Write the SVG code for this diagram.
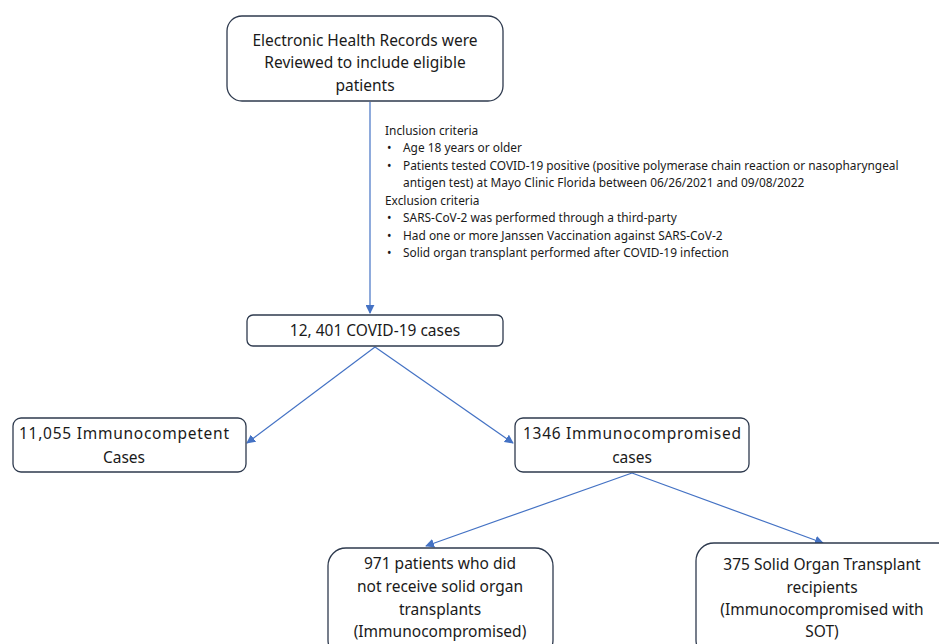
<svg xmlns="http://www.w3.org/2000/svg" width="939" height="644" viewBox="0 0 939 644">
<defs>
<marker id="ah" viewBox="0 0 10 10" refX="9" refY="5" markerWidth="9" markerHeight="9" markerUnits="userSpaceOnUse" orient="auto">
<path d="M0,0 L10,5 L0,10 z" fill="#4472C4"/>
</marker>
<style>
.box{fill:#fff;stroke:#2E3A4E;stroke-width:1.3}
.t{font-family:"Noto Sans","Open Sans",sans-serif;font-size:15.5px;fill:#1a1a1a;text-anchor:middle}
.c{font-family:"Noto Sans","Open Sans",sans-serif;font-size:11.9px;fill:#1a1a1a}
.ln{stroke:#4472C4;stroke-width:1.2;fill:none;marker-end:url(#ah)}
</style>
</defs>
<rect width="939" height="644" fill="#fff"/>
<g id="connectors">
<line class="ln" x1="370" y1="102" x2="370" y2="313"/>
<line class="ln" x1="375" y1="347" x2="247" y2="443"/>
<line class="ln" x1="375" y1="347" x2="513" y2="443"/>
<line class="ln" x1="632" y1="473" x2="426" y2="546"/>
<line class="ln" x1="632" y1="473" x2="823" y2="543"/>
</g>
<g id="ehr">
<rect class="box" x="227" y="16" width="276" height="85" rx="15"/>
<text class="t" x="365" y="46">Electronic Health Records were</text>
<text class="t" x="365" y="68">Reviewed to include eligible</text>
<text class="t" x="365" y="91">patients</text>
</g>
<g id="criteria">
<text class="c" x="385" y="135">Inclusion criteria</text>
<text class="c" x="387" y="152">•</text><text class="c" x="403" y="152">Age 18 years or older</text>
<text class="c" x="387" y="170">•</text><text class="c" x="403" y="170">Patients tested COVID-19 positive (positive polymerase chain reaction or nasopharyngeal</text>
<text class="c" x="403" y="187">antigen test) at Mayo Clinic Florida between 06/26/2021 and 09/08/2022</text>
<text class="c" x="385" y="205">Exclusion criteria</text>
<text class="c" x="387" y="222">•</text><text class="c" x="403" y="222">SARS-CoV-2 was performed through a third-party</text>
<text class="c" x="387" y="240">•</text><text class="c" x="403" y="240">Had one or more Janssen Vaccination against SARS-CoV-2</text>
<text class="c" x="387" y="257">•</text><text class="c" x="403" y="257">Solid organ transplant performed after COVID-19 infection</text>
</g>
<g id="covid">
<rect class="box" x="247" y="315" width="256" height="31" rx="6"/>
<text class="t" x="375" y="336">12, 401 COVID-19 cases</text>
</g>
<g id="immunocompetent">
<rect class="box" x="13" y="418" width="233" height="54" rx="8"/>
<text class="t" x="124" y="439" textLength="210">11,055 Immunocompetent</text>
<text class="t" x="124" y="463">Cases</text>
</g>
<g id="immunocompromised">
<rect class="box" x="515" y="418" width="234" height="54" rx="8"/>
<text class="t" x="632" y="439" textLength="218">1346 Immunocompromised</text>
<text class="t" x="632" y="463">cases</text>
</g>
<g id="nonsot">
<rect class="box" x="328" y="548" width="225" height="110" rx="18"/>
<text class="t" x="440" y="569">971 patients who did</text>
<text class="t" x="440" y="592">not receive solid organ</text>
<text class="t" x="440" y="615">transplants</text>
<text class="t" x="440" y="637">(Immunocompromised)</text>
</g>
<g id="sot">
<rect class="box" x="696" y="543" width="260" height="115" rx="18"/>
<text class="t" x="822" y="570">375 Solid Organ Transplant</text>
<text class="t" x="822" y="593">recipients</text>
<text class="t" x="822" y="615">(Immunocompromised with</text>
<text class="t" x="822" y="637">SOT)</text>
</g>
</svg>
